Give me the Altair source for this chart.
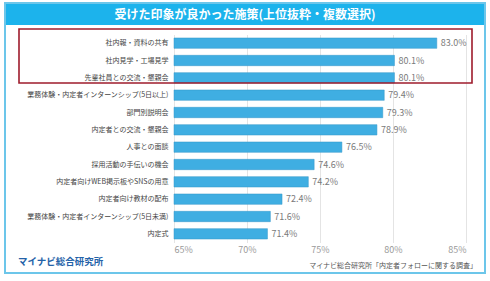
import altair as alt
import pandas as pd

# Survey results: share of respondents who rated each follow-up measure positively (%)
measures = [
    "社内報・資料の共有",
    "社内見学・工場見学",
    "先輩社員との交流・懇親会",
    "業務体験・内定者インターンシップ(5日以上)",
    "部門別説明会",
    "内定者との交流・懇親会",
    "人事との面談",
    "採用活動の手伝いの機会",
    "内定者向けWEB掲示板やSNSの用意",
    "内定者向け教材の配布",
    "業務体験・内定者インターンシップ(5日未満)",
    "内定式",
]
shares = [83.0, 80.1, 80.1, 79.4, 79.3, 78.9, 76.5, 74.6, 74.2, 72.4, 71.6, 71.4]
axis_ticks = [65, 70, 75, 80, 85]

title_text = "受けた印象が良かった施策(上位抜粋・複数選択)"
logo_text = "マイナビ総合研究所"
source_text = "マイナビ総合研究所「内定者フォローに関する調査」"

FONT = "Noto Sans CJK JP"
W, H = 292, 208          # plot area
LEFT, TOP = 174, 34.5    # plot origin inside the 490x281 page

df = pd.DataFrame({"measure": measures, "share": shares})

x_scale = alt.Scale(domain=[65, 85], nice=False, zero=False)
y_enc = alt.Y(
    "measure:N",
    sort=measures,
    scale=alt.Scale(paddingInner=0.4, paddingOuter=0.2),
    axis=alt.Axis(
        title=None, domain=False, ticks=False, labelPadding=6,
        labelFont=FONT, labelFontSize=7, labelColor="#444444", labelLimit=200,
    ),
)

base = alt.Chart(df)

bars = base.mark_bar(color="#3FAEE2", stroke="#3597C8", strokeWidth=0.5).encode(
    x=alt.X(
        "share:Q",
        scale=x_scale,
        axis=alt.Axis(
            title=None, values=axis_ticks, labelExpr="datum.value + '%'",
            domain=False, ticks=False, grid=True, gridColor="#E4E4E4",
            labelFont=FONT, labelFontSize=9, labelColor="#9A9A9A", labelPadding=3,
        ),
    ),
    x2=alt.datum(65),
    y=y_enc,
)

values = base.mark_text(
    align="left", baseline="middle", dx=4, font=FONT, fontSize=9, color="#7A7A7A"
).encode(
    x=alt.X("share:Q", scale=x_scale),
    y=alt.Y("measure:N", sort=measures),
    text=alt.Text("share:Q", format=".1f"),
).transform_calculate(label="format(datum.share, '.1f') + '%'").encode(
    text="label:N"
)

one = alt.Chart(pd.DataFrame({"k": [0]}))

# Page frame and banner (pixel positions relative to the plot origin)
frame = one.mark_rect(fill=None, stroke="#6CC6EA", strokeWidth=2).encode(
    x=alt.value(5 - LEFT), x2=alt.value(485 - LEFT),
    y=alt.value(3 - TOP), y2=alt.value(273 - TOP),
)
banner = one.mark_rect(fill="#1CB3EC").encode(
    x=alt.value(5 - LEFT), x2=alt.value(485 - LEFT),
    y=alt.value(3 - TOP), y2=alt.value(25 - TOP),
)
banner_text = one.mark_text(
    text=title_text, font=FONT, fontSize=12, fontWeight="bold", color="white",
    align="center", baseline="middle",
).encode(x=alt.value(245 - LEFT), y=alt.value(14.5 - TOP))

highlight = one.mark_rect(fill=None, stroke="#9E1C2C", strokeWidth=1.6).encode(
    x=alt.value(19 - LEFT), x2=alt.value(472 - LEFT),
    y=alt.value(29 - TOP), y2=alt.value(83 - TOP),
)

logo = one.mark_text(
    text=logo_text, font=FONT, fontSize=9.5, fontWeight="bold", color="#2462A8",
    align="left", baseline="middle",
).encode(x=alt.value(18 - LEFT), y=alt.value(262 - TOP))

source = one.mark_text(
    text=source_text, font=FONT, fontSize=7, color="#555555",
    align="right", baseline="middle",
).encode(x=alt.value(477 - LEFT), y=alt.value(266 - TOP))

chart = alt.layer(
    banner, frame, bars, values, highlight, banner_text, logo, source
).properties(
    width=W, height=H,
    autosize=alt.AutoSizeParams(type="none"),
    padding={"left": LEFT, "top": TOP, "right": 490 - LEFT - W, "bottom": 281 - TOP - H},
    background="white",
).configure_view(stroke=None)

chart.save("out.html", embed_options={"renderer": "svg", "actions": False})
